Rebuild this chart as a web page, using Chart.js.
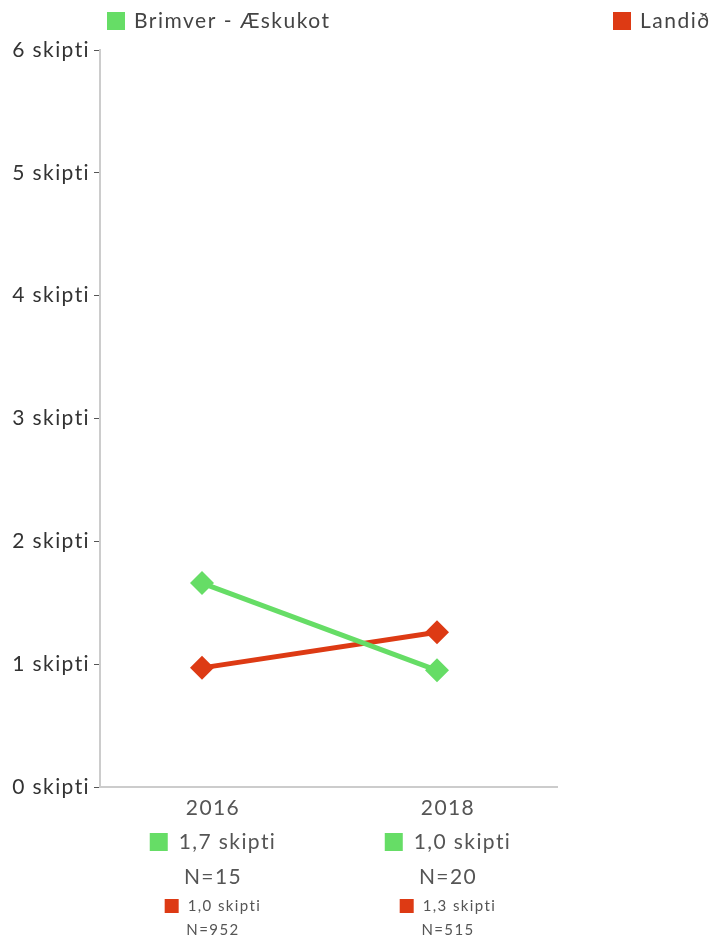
<!DOCTYPE html>
<html>
<head>
<meta charset="utf-8">
<script src="https://cdn.jsdelivr.net/npm/chart.js@4/dist/chart.umd.min.js"></script>
<style>
html,body{margin:0;padding:0;background:#fff;}
#wrap{position:relative;width:718px;height:942px;}
</style>
</head>
<body>
<div id="wrap"><canvas id="c" width="718" height="942"></canvas></div>
<script>
const years = [2016, 2018];
const seriesNames = ['Brimver - Æskukot', 'Landið'];
const localValues = [1.66, 0.95];
const nationalValues = [0.97, 1.26];
const localLabels = ['1,7 skipti', '1,0 skipti'];
const localN = ['N=15', 'N=20'];
const nationalLabels = ['1,0 skipti', '1,3 skipti'];
const nationalN = ['N=952', 'N=515'];
const yTicks = [0, 1, 2, 3, 4, 5, 6];
const colors = ['#66dd66', '#dd3a14'];
const FONT = 'Lato, "Open Sans", sans-serif';

const spacingPlugin = {
  id: 'spacing',
  beforeDraw(chart) { chart.ctx.letterSpacing = '1.4px'; }
};

const legendPlugin = {
  id: 'customLegend',
  afterDraw(chart) {
    const ctx = chart.ctx;
    ctx.save();
    ctx.letterSpacing = '1.5px';
    const pos = [107, 613];
    ctx.font = '21px ' + FONT;
    ctx.textBaseline = 'middle';
    ctx.textAlign = 'left';
    seriesNames.forEach((n, i) => {
      ctx.fillStyle = colors[i];
      ctx.fillRect(pos[i], 12, 18, 18);
      ctx.fillStyle = '#444';
      ctx.fillText(n, pos[i] + 27, 21);
    });
    ctx.restore();
  }
};

const bottomPlugin = {
  id: 'bottomLabels',
  afterDraw(chart) {
    const ctx = chart.ctx;
    const xs = chart.scales.x;
    ctx.save();
    ctx.letterSpacing = '1.4px';
    ctx.textBaseline = 'middle';
    years.forEach((yr, i) => {
      const cx = xs.getPixelForValue(yr) + 11;
      ctx.fillStyle = '#555';
      ctx.font = '21px ' + FONT;
      ctx.textAlign = 'center';
      ctx.fillText(String(yr), cx, 808);
      let tw = ctx.measureText(localLabels[i]).width;
      let total = 18 + 11 + tw;
      let x0 = cx - total / 2;
      ctx.fillStyle = colors[0];
      ctx.fillRect(x0, 833, 18, 18);
      ctx.fillStyle = '#555';
      ctx.textAlign = 'left';
      ctx.fillText(localLabels[i], x0 + 29, 842);
      ctx.textAlign = 'center';
      ctx.fillText(localN[i], cx, 877);
      ctx.font = '15px ' + FONT;
      tw = ctx.measureText(nationalLabels[i]).width;
      total = 14 + 9 + tw;
      x0 = cx - total / 2;
      ctx.fillStyle = colors[1];
      ctx.fillRect(x0, 899, 14, 14);
      ctx.fillStyle = '#555';
      ctx.textAlign = 'left';
      ctx.fillText(nationalLabels[i], x0 + 23, 906);
      ctx.textAlign = 'center';
      ctx.fillText(nationalN[i], cx, 930);
    });
    ctx.restore();
  }
};

new Chart(document.getElementById('c'), {
  type: 'line',
  data: {
    datasets: [
      {
        label: seriesNames[0],
        data: years.map((y, i) => ({x: y, y: localValues[i]})),
        borderColor: colors[0],
        backgroundColor: colors[0],
        borderWidth: 5,
        pointStyle: 'rectRot',
        pointRadius: 12,
        pointHoverRadius: 12,
        pointBorderWidth: 0
      },
      {
        label: seriesNames[1],
        data: years.map((y, i) => ({x: y, y: nationalValues[i]})),
        borderColor: colors[1],
        backgroundColor: colors[1],
        borderWidth: 5,
        pointStyle: 'rectRot',
        pointRadius: 12,
        pointHoverRadius: 12,
        pointBorderWidth: 0
      }
    ]
  },
  options: {
    responsive: false,
    animation: false,
    layout: {padding: {top: 50, right: 161, bottom: 0, left: 0}},
    plugins: {legend: {display: false}, tooltip: {enabled: false}},
    scales: {
      x: {
        type: 'linear',
        min: 2015.132,
        max: 2019.021,
        afterBuildTicks(s) { s.ticks = years.map(v => ({value: v})); },
        ticks: {display: false},
        grid: {display: false, drawTicks: false},
        border: {display: true, color: '#cccccc', width: 2},
        afterFit(s) { s.height = 155; }
      },
      y: {
        min: 0,
        max: 6,
        afterBuildTicks(s) { s.ticks = yTicks.map(v => ({value: v})); },
        ticks: {
          color: '#333',
          font: {family: FONT, size: 21},
          padding: 4,
          callback: v => v + ' skipti'
        },
        grid: {drawOnChartArea: false, drawTicks: true, tickLength: 6, color: '#555', lineWidth: 1},
        border: {display: true, color: '#cccccc', width: 2},
        afterFit(s) { s.width = 100; }
      }
    }
  },
  plugins: [spacingPlugin, legendPlugin, bottomPlugin]
});
</script>
</body>
</html>
